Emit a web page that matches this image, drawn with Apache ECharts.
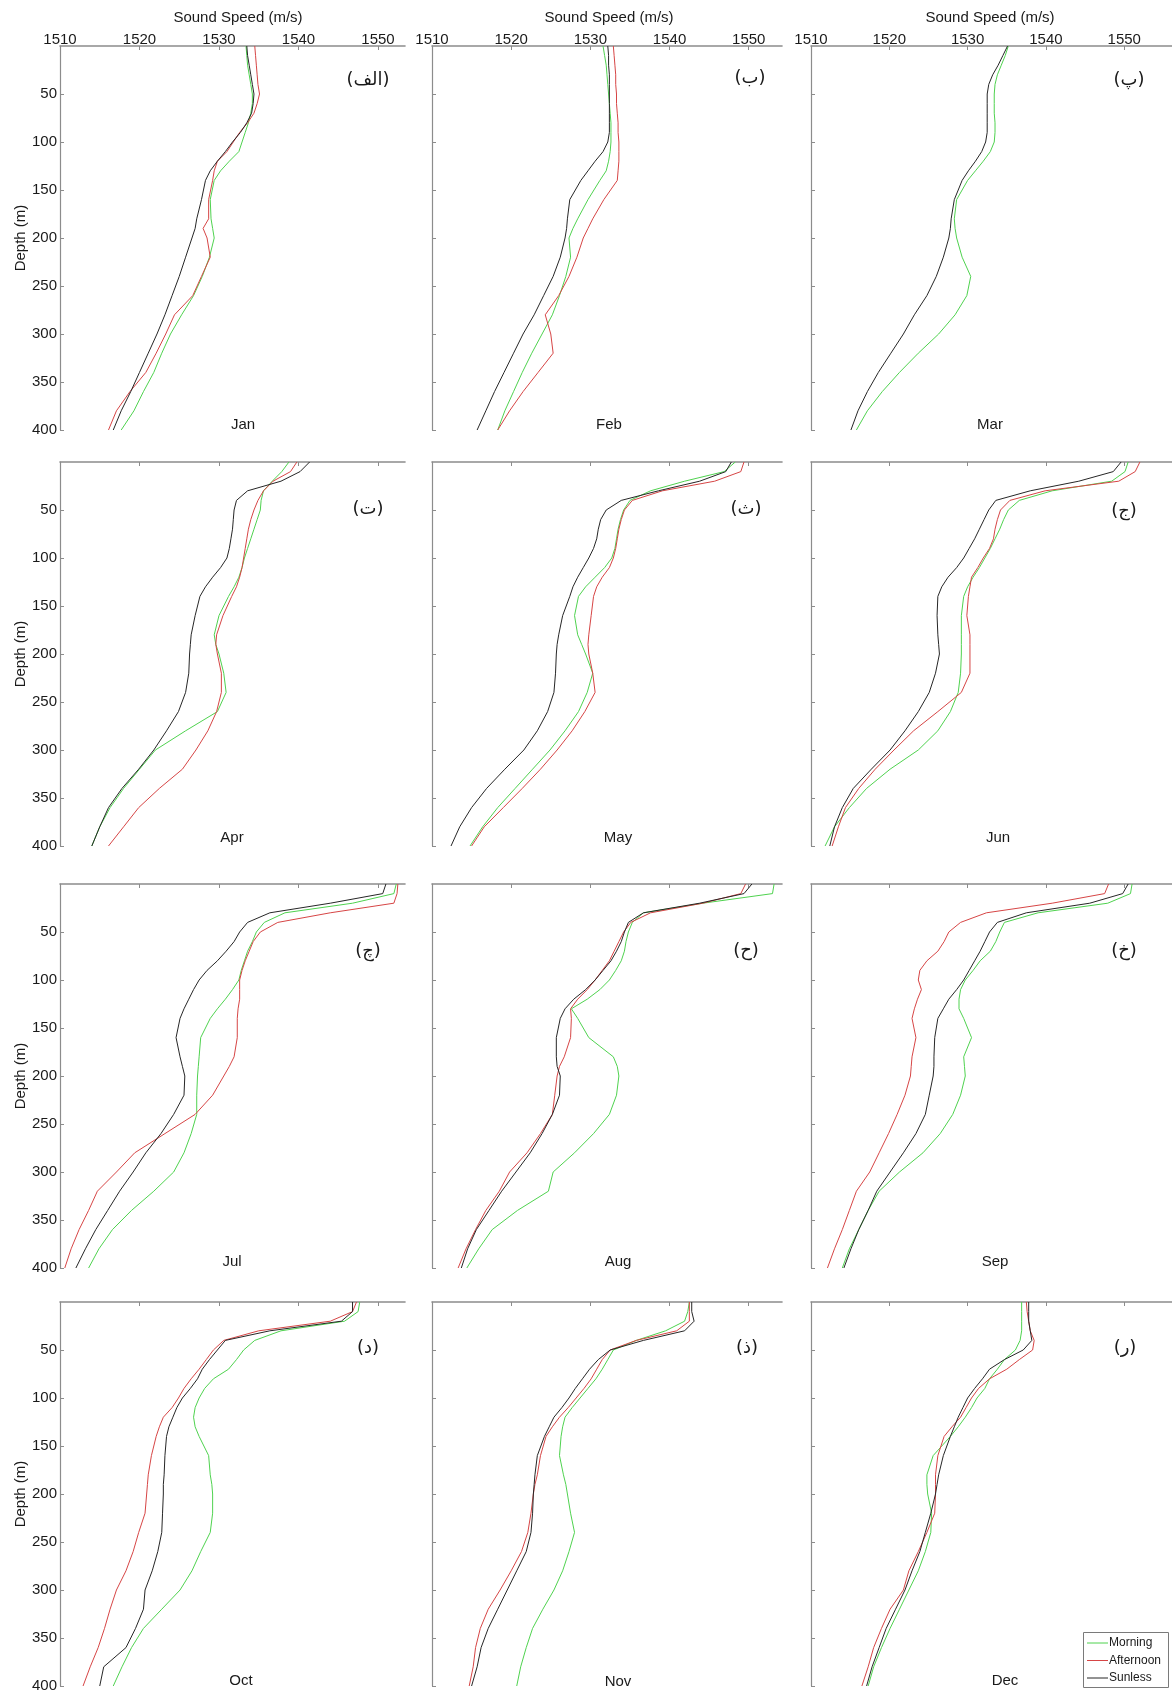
<!DOCTYPE html>
<html>
<head>
<meta charset="utf-8">
<script src="https://cdn.jsdelivr.net/npm/echarts@6/dist/echarts.min.js"></script>
<style>
html,body{margin:0;padding:0;background:#fff;}
#chart{width:1172px;height:1697px;}
</style>
</head>
<body>
<div id="chart"></div>
<script>
// ---------------- DATA ----------------
const depths = [0,10,20,30,40,50,60,70,80,90,100,110,120,130,140,160,180,190,200,220,240,260,280,300,320,340,360,380,400];
const xTicks = [1510,1520,1530,1540,1550];
const yTicks = [50,100,150,200,250,300,350,400];
const months = ['Jan','Feb','Mar','Apr','May','Jun','Jul','Aug','Sep','Oct','Nov','Dec'];
const panelTags = ['(الف)','(ب)','(پ)','(ت)','(ث)','(ج)','(چ)','(ح)','(خ)','(د)','(ذ)','(ر)'];
const seriesNames = ['Morning','Afternoon','Sunless'];

const janMorning   = [1533.4,1533.5,1533.6,1533.8,1534.0,1534.2,1534.2,1534.0,1533.7,1533.3,1532.9,1532.5,1531.3,1530.2,1529.4,1528.9,1529.0,1529.2,1529.4,1528.8,1527.9,1526.8,1525.3,1523.9,1522.8,1521.8,1520.5,1519.3,1517.7];
const janAfternoon = [1534.5,1534.6,1534.7,1534.8,1534.9,1535.1,1534.8,1534.4,1533.6,1532.6,1531.8,1531.0,1529.8,1529.4,1529.2,1528.7,1528.7,1528.0,1528.5,1528.9,1527.8,1526.7,1524.4,1523.3,1522.1,1520.8,1518.8,1517.1,1516.1];
const janSunless   = [1533.5,1533.6,1533.8,1534.0,1534.2,1534.4,1534.3,1534.1,1533.5,1532.7,1531.7,1530.8,1529.8,1528.9,1528.3,1527.8,1527.2,1527.0,1526.6,1525.8,1525.0,1524.1,1523.2,1522.2,1521.1,1520.0,1518.9,1517.7,1516.7];

const febMorning   = [1531.6,1531.8,1532.0,1532.1,1532.2,1532.3,1532.4,1532.5,1532.6,1532.6,1532.6,1532.5,1532.3,1532.0,1531.2,1529.7,1528.4,1527.8,1527.3,1527.5,1526.9,1526.1,1525.2,1523.9,1522.6,1521.4,1520.3,1519.2,1518.3];
const febAfternoon = [1532.9,1533.0,1533.1,1533.2,1533.2,1533.3,1533.3,1533.4,1533.5,1533.5,1533.6,1533.6,1533.6,1533.5,1533.4,1531.7,1530.3,1529.7,1529.1,1528.3,1527.3,1526.0,1524.3,1525.0,1525.3,1523.4,1521.5,1519.8,1518.3];
const febSunless   = [1532.2,1532.3,1532.3,1532.4,1532.4,1532.4,1532.4,1532.4,1532.4,1532.4,1532.2,1531.6,1530.6,1529.7,1528.8,1527.4,1527.1,1527.0,1526.8,1526.2,1525.3,1524.1,1522.9,1521.5,1520.3,1519.1,1517.9,1516.8,1515.7];

const marMorning   = [1535.2,1534.8,1534.3,1533.8,1533.5,1533.4,1533.4,1533.4,1533.5,1533.5,1533.4,1532.9,1532.0,1531.0,1530.0,1528.6,1528.3,1528.4,1528.6,1529.3,1530.4,1529.9,1528.4,1526.3,1523.7,1521.3,1519.1,1517.2,1515.8];
const marAfternoon = [];
const marSunless   = [1535.1,1534.5,1533.9,1533.2,1532.7,1532.5,1532.5,1532.5,1532.5,1532.5,1532.3,1531.8,1531.0,1530.1,1529.3,1528.3,1527.9,1527.8,1527.6,1526.9,1526.0,1524.8,1523.2,1521.8,1520.2,1518.6,1517.2,1516.0,1515.1];

const aprMorning   = [1538.8,1537.9,1536.7,1535.6,1535.3,1535.2,1534.8,1534.4,1534.0,1533.6,1533.2,1532.9,1532.5,1531.9,1531.2,1530.0,1529.4,1529.6,1530.0,1530.6,1530.9,1529.8,1525.8,1522.0,1520.0,1518.0,1516.3,1515.0,1514.0];
const aprAfternoon = [1539.8,1539.0,1536.8,1535.6,1534.9,1534.4,1534.0,1533.7,1533.5,1533.3,1533.1,1532.9,1532.6,1532.2,1531.6,1530.5,1529.7,1529.6,1529.8,1530.3,1530.3,1529.7,1528.6,1527.1,1525.4,1522.5,1519.9,1518.0,1516.1];
const aprSunless   = [1541.4,1540.2,1537.8,1533.6,1532.2,1531.9,1531.8,1531.7,1531.5,1531.3,1531.0,1530.2,1529.2,1528.3,1527.6,1527.0,1526.5,1526.4,1526.3,1526.2,1525.8,1524.9,1523.4,1521.8,1519.9,1517.8,1516.1,1515.0,1514.0];

const mayMorning   = [1548.3,1546.9,1541.9,1537.6,1535.0,1534.2,1533.8,1533.5,1533.3,1533.1,1532.7,1531.8,1530.6,1529.4,1528.5,1528.0,1528.4,1528.9,1529.4,1530.3,1529.6,1528.5,1526.8,1524.9,1522.7,1520.5,1518.3,1516.4,1514.8];
const mayAfternoon = [1549.4,1549.0,1545.7,1539.1,1535.3,1534.3,1533.9,1533.6,1533.4,1533.2,1532.9,1532.4,1531.5,1530.8,1530.4,1530.1,1529.8,1529.7,1529.8,1530.3,1530.6,1529.3,1527.7,1525.8,1523.7,1521.4,1519.0,1516.6,1515.0];
const maySunless   = [1547.8,1547.1,1543.8,1538.6,1533.9,1532.0,1531.3,1531.0,1530.8,1530.4,1529.8,1529.1,1528.4,1527.8,1527.4,1526.5,1526.0,1525.8,1525.7,1525.6,1525.4,1524.6,1523.3,1521.6,1519.2,1516.9,1515.0,1513.5,1512.4];

const junMorning   = [1550.5,1550.1,1548.4,1540.8,1536.6,1535.2,1534.6,1534.1,1533.5,1532.9,1532.2,1531.5,1530.7,1530.0,1529.5,1529.2,1529.2,1529.2,1529.2,1529.1,1528.8,1527.8,1526.2,1523.7,1520.1,1517.1,1514.9,1513.0,1511.8];
const junAfternoon = [1552.0,1551.4,1549.3,1539.9,1535.4,1534.2,1533.8,1533.5,1533.3,1532.8,1532.0,1531.3,1530.5,1530.3,1530.1,1529.9,1530.3,1530.3,1530.3,1530.3,1529.2,1526.2,1523.1,1520.6,1518.2,1516.1,1514.4,1513.5,1512.7];
const junSunless   = [1549.6,1548.6,1544.2,1538.0,1533.6,1532.7,1532.1,1531.5,1530.9,1530.2,1529.5,1528.6,1527.5,1526.7,1526.2,1526.1,1526.2,1526.3,1526.4,1525.9,1525.1,1523.7,1522.0,1520.1,1517.7,1515.4,1514.0,1513.0,1512.4];

const julMorning   = [1552.3,1552.0,1546.8,1538.3,1535.7,1534.7,1534.2,1533.6,1533.2,1532.8,1532.5,1531.7,1530.8,1529.8,1528.9,1527.7,1527.5,1527.4,1527.3,1527.2,1527.2,1526.5,1525.6,1524.3,1521.8,1519.0,1516.6,1514.9,1513.6];
const julAfternoon = [1552.5,1552.4,1552.0,1544.0,1537.4,1535.2,1534.3,1533.8,1533.3,1532.9,1532.6,1532.6,1532.6,1532.4,1532.3,1532.3,1531.9,1531.3,1530.6,1529.2,1527.0,1523.2,1519.4,1517.1,1514.7,1513.6,1512.4,1511.4,1510.6];
const julSunless   = [1551.0,1550.6,1544.0,1536.4,1533.6,1532.6,1531.9,1530.9,1529.8,1528.5,1527.5,1526.8,1526.2,1525.6,1525.1,1524.6,1525.1,1525.4,1525.7,1525.6,1524.3,1522.7,1520.8,1519.2,1517.5,1516.0,1514.5,1513.2,1512.0];

const augMorning   = [1553.2,1553.0,1544.2,1536.7,1535.3,1534.8,1534.5,1534.3,1533.9,1533.2,1532.4,1531.2,1529.6,1527.6,1528.4,1529.8,1532.9,1533.4,1533.6,1533.3,1532.4,1530.4,1528.0,1525.3,1524.7,1520.8,1517.6,1515.9,1514.4];
const augAfternoon = [1549.6,1549.0,1544.2,1537.6,1535.1,1534.2,1533.6,1533.0,1532.4,1531.5,1530.6,1529.6,1528.4,1527.5,1527.6,1527.5,1526.7,1526.1,1525.8,1525.5,1525.2,1523.7,1522.0,1519.8,1518.5,1516.8,1515.5,1514.3,1513.3];
const augSunless   = [1550.4,1549.4,1543.8,1536.7,1534.8,1534.3,1533.9,1533.3,1532.6,1531.6,1530.6,1529.4,1527.9,1526.8,1526.2,1525.7,1525.7,1525.8,1526.2,1526.1,1525.2,1523.9,1522.4,1520.6,1518.8,1517.2,1515.6,1514.5,1513.7];

const sepMorning   = [1551.0,1550.8,1547.9,1539.0,1534.7,1534.1,1533.6,1532.9,1531.6,1530.7,1529.7,1529.1,1528.9,1528.9,1529.5,1530.5,1529.5,1529.6,1529.7,1529.1,1528.1,1526.5,1524.3,1521.3,1518.7,1517.3,1516.1,1514.9,1514.0];
const sepAfternoon = [1548.0,1547.5,1540.8,1532.4,1529.1,1527.6,1527.0,1526.2,1524.8,1523.9,1523.7,1524.1,1523.6,1523.2,1522.9,1523.4,1522.9,1522.8,1522.7,1522.0,1521.0,1519.9,1518.7,1517.5,1515.8,1514.9,1514.0,1513.0,1512.1];
const sepSunless   = [1550.5,1549.8,1545.6,1537.5,1533.8,1532.8,1532.2,1531.6,1530.9,1530.2,1529.5,1528.6,1527.6,1526.9,1526.2,1525.8,1525.7,1525.7,1525.6,1525.1,1524.6,1523.4,1521.8,1520.1,1518.4,1517.3,1516.1,1515.1,1514.2];

const octMorning   = [1547.7,1547.5,1545.8,1537.8,1534.5,1533.1,1532.2,1531.2,1529.3,1528.2,1527.5,1527.0,1526.8,1527.0,1527.5,1528.7,1528.9,1529.1,1529.2,1529.2,1528.9,1527.7,1526.6,1525.1,1522.8,1520.5,1519.0,1517.8,1516.7];
const octAfternoon = [1547.3,1546.8,1544.0,1535.0,1530.6,1529.3,1528.4,1527.5,1526.5,1525.6,1524.9,1524.1,1523.0,1522.5,1522.1,1521.5,1521.1,1521.0,1520.9,1520.7,1519.9,1519.2,1518.3,1517.1,1516.3,1515.6,1514.8,1513.8,1512.9];
const octSunless   = [1546.8,1546.8,1545.4,1536.4,1530.8,1529.8,1528.8,1527.9,1527.3,1526.4,1525.4,1524.7,1524.2,1523.7,1523.4,1523.2,1523.1,1523.0,1523.0,1522.9,1522.8,1522.3,1521.6,1520.7,1520.5,1519.5,1518.3,1515.5,1515.0];

const novMorning   = [1542.5,1542.3,1541.9,1539.5,1535.8,1532.9,1532.2,1531.5,1530.7,1529.7,1528.7,1527.7,1526.8,1526.5,1526.3,1526.1,1526.6,1526.9,1527.1,1527.5,1528.0,1527.3,1526.5,1525.4,1524.0,1522.7,1521.9,1521.2,1520.7];
const novAfternoon = [1542.5,1542.5,1542.5,1540.9,1535.8,1532.5,1531.5,1530.8,1530.1,1529.2,1528.2,1527.2,1526.1,1525.2,1524.4,1523.7,1523.3,1523.0,1522.8,1522.5,1522.1,1521.3,1520.0,1518.6,1517.1,1516.1,1515.5,1515.2,1514.7];
const novSunless   = [1542.8,1542.8,1543.1,1541.9,1536.7,1532.5,1531.0,1529.9,1529.0,1528.1,1527.3,1526.4,1525.4,1524.8,1524.2,1523.3,1523.0,1522.9,1522.8,1522.7,1522.5,1521.9,1520.7,1519.5,1518.3,1517.1,1516.2,1515.7,1515.0];

const decMorning   = [1536.9,1536.9,1536.9,1536.9,1536.7,1536.1,1534.7,1533.8,1532.8,1532.2,1531.2,1530.5,1529.7,1528.8,1527.8,1525.6,1524.8,1524.8,1524.9,1525.4,1525.3,1524.6,1523.7,1522.5,1521.3,1520.1,1519.0,1518.0,1517.3];
const decAfternoon = [1537.5,1537.6,1537.8,1538.0,1538.5,1538.3,1536.6,1535.0,1532.8,1531.4,1530.5,1529.8,1529.1,1528.0,1527.0,1526.2,1525.9,1525.9,1525.9,1525.8,1524.8,1523.7,1522.5,1521.8,1520.1,1519.0,1518.0,1517.3,1516.5];
const decSunless   = [1537.8,1537.8,1537.8,1538.0,1538.2,1537.1,1534.7,1532.8,1531.9,1530.9,1530.0,1529.4,1528.8,1528.3,1527.8,1526.9,1526.3,1526.1,1525.9,1525.3,1524.6,1523.9,1522.9,1522.0,1520.8,1519.6,1518.7,1517.8,1517.1];

const morning   = [janMorning,febMorning,marMorning,aprMorning,mayMorning,junMorning,julMorning,augMorning,sepMorning,octMorning,novMorning,decMorning];
const afternoon = [janAfternoon,febAfternoon,marAfternoon,aprAfternoon,mayAfternoon,junAfternoon,julAfternoon,augAfternoon,sepAfternoon,octAfternoon,novAfternoon,decAfternoon];
const sunless   = [janSunless,febSunless,marSunless,aprSunless,maySunless,junSunless,julSunless,augSunless,sepSunless,octSunless,novSunless,decSunless];

// ---------------- LAYOUT / STYLE ----------------
const colLeft  = [60, 432, 811];
const colWidth = [345, 350, 365];
const colMax   = [1553.4, 1554.2, 1556.1];
const rowTop   = [46, 462, 884, 1302];
const panelH   = 384;
const colors   = ['#4fd24f', '#d64545', '#262626'];
const axisColor = '#8c8c8c';
const FONT = "'Liberation Sans', Arial, sans-serif";

const monthPos = [[243,425],[609,425],[990,425],[232,838],[618,838],[998,838],[232,1262],[618,1262],[995,1262],[241,1681],[618,1682],[1005,1681]];
const tagPos = [[368,80],[750,78],[1129,80],[368,509],[746,509],[1124,511],[368,951],[746,951],[1124,951],[368,1348],[747,1348],[1125,1348]];

const grids = [], xAxes = [], yAxes = [], series = [], graphics = [];
for (let i = 0; i < 12; i++) {
  const row = Math.floor(i / 3), col = i % 3;
  grids.push({left: colLeft[col], top: rowTop[row], width: colWidth[col], height: panelH, containLabel: false});
  xAxes.push({
    type: 'value', gridIndex: i, position: 'top', min: 1510, max: colMax[col],
    axisLine: {show: true, onZero: false, lineStyle: {color: axisColor, width: 1.6}},
    axisTick: {show: true, inside: true, length: 4, customValues: xTicks, lineStyle: {color: axisColor, width: 1}},
    axisLabel: {show: row === 0, customValues: xTicks, formatter: v => String(v), fontSize: 15, color: '#1a1a1a', fontFamily: FONT, margin: -1},
    splitLine: {show: false}
  });
  yAxes.push({
    type: 'value', gridIndex: i, inverse: true, min: 0, max: 400,
    axisLine: {show: true, onZero: false, lineStyle: {color: axisColor, width: 1.2}},
    axisTick: {show: true, inside: true, length: 4, customValues: yTicks, lineStyle: {color: axisColor, width: 1}},
    axisLabel: {show: col === 0, customValues: yTicks, formatter: v => String(v), fontSize: 15, color: '#1a1a1a', fontFamily: FONT, margin: 3},
    splitLine: {show: false}
  });
  [morning[i], afternoon[i], sunless[i]].forEach((vals, s) => {
    if (!vals.length) return;
    series.push({
      type: 'line', name: seriesNames[s], xAxisIndex: i, yAxisIndex: i,
      data: depths.map((d, k) => [vals[k], d]),
      symbol: 'none', smooth: false, animation: false,
      lineStyle: {color: colors[s], width: 1},
      itemStyle: {color: colors[s]},
      z: 2 + s
    });
  });
  graphics.push({type: 'text', x: monthPos[i][0], y: monthPos[i][1],
    style: {text: months[i], font: '15px ' + FONT, fill: '#1a1a1a', textAlign: 'center', textVerticalAlign: 'middle'}});
  graphics.push({type: 'text', x: tagPos[i][0], y: tagPos[i][1],
    style: {text: panelTags[i], font: '18px "DejaVu Sans", sans-serif', fill: '#1a1a1a', textAlign: 'center', textVerticalAlign: 'middle'}});
}
// axis titles
[238, 609, 990].forEach(x => graphics.push({type: 'text', x: x, y: 18,
  style: {text: 'Sound Speed (m/s)', font: '15px ' + FONT, fill: '#1a1a1a', textAlign: 'center', textVerticalAlign: 'middle'}}));
rowTop.forEach(t => graphics.push({type: 'text', x: 21, y: t + panelH / 2, rotation: Math.PI / 2,
  style: {text: 'Depth (m)', font: '15px ' + FONT, fill: '#1a1a1a', textAlign: 'center', textVerticalAlign: 'middle'}}));

// legend (drawn as graphic: plain line keys, no symbols)
const legX = 1083, legY = 1632, legW = 85, legH = 55;
graphics.push({type: 'rect', shape: {x: legX + 0.5, y: legY + 0.5, width: legW, height: legH},
  style: {fill: '#ffffff', stroke: '#7a7a7a', lineWidth: 1}, z: 10});
seriesNames.forEach((name, s) => {
  const cy = legY + 11 + s * 17.5;
  graphics.push({type: 'line', shape: {x1: legX + 4, y1: cy, x2: legX + 25, y2: cy},
    style: {stroke: colors[s], lineWidth: 1}, z: 11});
  graphics.push({type: 'text', x: legX + 26, y: cy,
    style: {text: name, font: '12px ' + FONT, fill: '#1a1a1a', textAlign: 'left', textVerticalAlign: 'middle'}, z: 11});
});

const chart = echarts.init(document.getElementById('chart'), null, {renderer: 'canvas'});
chart.setOption({
  animation: false,
  backgroundColor: '#ffffff',
  grid: grids, xAxis: xAxes, yAxis: yAxes, series: series,
  graphic: graphics
});
</script>
</body>
</html>
